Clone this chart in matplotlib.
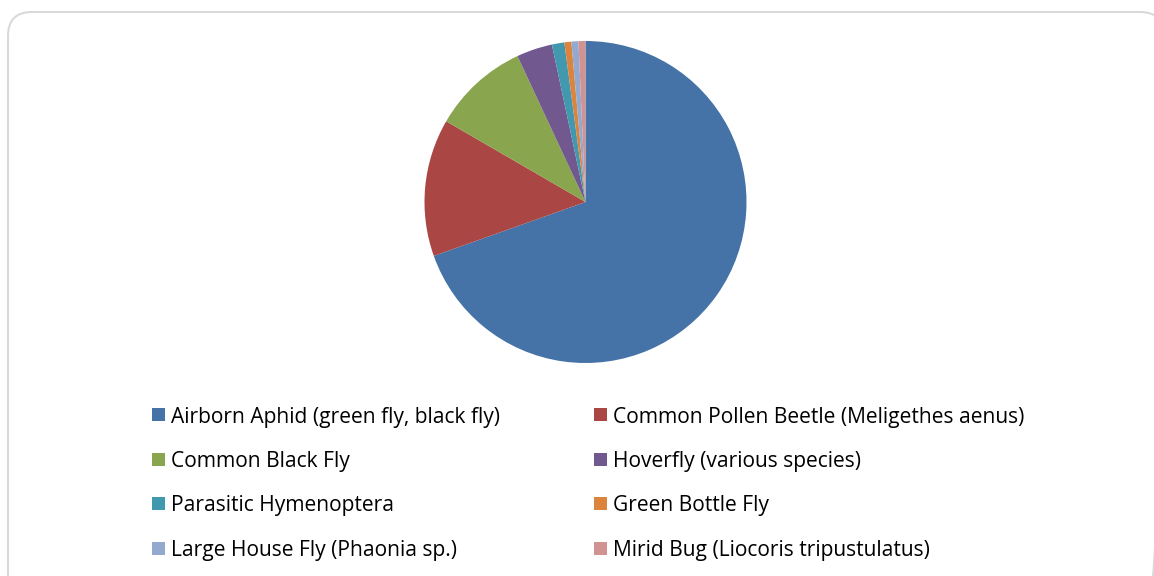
import matplotlib
matplotlib.use("Agg")
import matplotlib.pyplot as plt
from matplotlib.patches import FancyBboxPatch, Rectangle

categories = [
    "Airborn Aphid (green fly, black fly)",
    "Common Pollen Beetle (Meligethes aenus)",
    "Common Black Fly",
    "Hoverfly (various species)",
    "Parasitic Hymenoptera",
    "Green Bottle Fly",
    "Large House Fly (Phaonia sp.)",
    "Mirid Bug (Liocoris tripustulatus)",
]
values = [69.6, 13.8, 9.7, 3.6, 1.25, 0.7, 0.7, 0.7]
colors = ["#4572A7", "#AA4643", "#89A54E", "#71588F",
          "#4198AF", "#DB843D", "#93A9CF", "#D19392"]

W, H = 1154, 576
fig = plt.figure(figsize=(W / 100, H / 100), dpi=100)
fig.patch.set_facecolor("white")

# background axes in pixel coordinates for the rounded chart border
bg = fig.add_axes([0, 0, 1, 1], zorder=-10)
bg.set_xlim(0, W)
bg.set_ylim(H, 0)
bg.axis("off")
bg.add_patch(FancyBboxPatch((8, 12), 1164 - 8, 640 - 12,
                            boxstyle="round,pad=0,rounding_size=24",
                            facecolor="none", edgecolor="#d9d9d9",
                            linewidth=1.5))

cx, cy, r = 585.5, 202, 161
ax = fig.add_axes([(cx - r) / W, (H - cy - r) / H, 2 * r / W, 2 * r / H])
ax.pie(values, colors=colors, startangle=90, counterclock=False,
       wedgeprops=dict(linewidth=0))
ax.set_aspect("equal")
ax.set_xlim(-1, 1)
ax.set_ylim(-1, 1)
ax.axis("off")

# legend (two columns)
col_x = [152, 594]
row_y0, row_gap = 422.5, 44.5
sq = 13
for i, (lab, c) in enumerate(zip(categories, colors)):
    col, row = i % 2, i // 2
    x = col_x[col]
    yb = row_y0 + row * row_gap
    bg.add_patch(Rectangle((x, yb - sq - 1.5), sq, sq, facecolor=c,
                           edgecolor="none"))
    bg.text(x + 19, yb, lab, fontsize=15.1,
            family=["Open Sans", "DejaVu Sans"], color="#000000",
            va="baseline", ha="left")

fig.savefig("out.png", dpi=100)
